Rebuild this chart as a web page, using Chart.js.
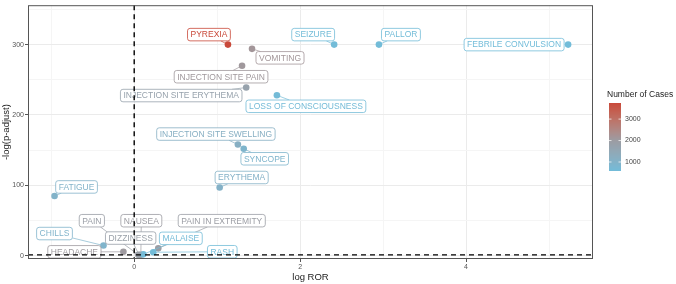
<!DOCTYPE html>
<html>
<head>
<meta charset="utf-8">
<script src="https://cdn.jsdelivr.net/npm/chart.js@4"></script>
<style>
  html, body { margin: 0; padding: 0; background: #fff; }
  #wrap { width: 676px; height: 284px; position: relative; }
</style>
</head>
<body>
<div id="wrap"><canvas id="c" width="676" height="284"></canvas></div>
<script>
/* ---------------- Data ---------------- */
const terms = [
  "PYREXIA", "VOMITING", "INJECTION SITE PAIN", "INJECTION SITE ERYTHEMA",
  "LOSS OF CONSCIOUSNESS", "SEIZURE", "PALLOR", "FEBRILE CONVULSION",
  "INJECTION SITE SWELLING", "SYNCOPE", "ERYTHEMA", "FATIGUE",
  "PAIN", "NAUSEA", "PAIN IN EXTREMITY", "CHILLS", "DIZZINESS", "MALAISE",
  "HEADACHE", "RASH"
];
const logROR = [
  1.13, 1.42, 1.30, 1.35,
  1.72, 2.41, 2.95, 5.23,
  1.25, 1.32, 1.03, -0.96,
  0.05, 0.08, 0.29, -0.37, 0.06, 0.11,
  -0.13, 0.23
];
const negLogP = [
  300, 294, 270, 239,
  228, 300, 300, 300,
  158, 152, 97, 85,
  1.5, 1.5, 10.5, 14.5, 1.0, 2.0,
  5.6, 5.0
];
const cases = [
  3750, 2150, 2100, 1750,
  620, 600, 600, 580,
  1150, 900, 1050, 1000,
  1900, 2000, 1950, 950, 1850, 620,
  2050, 600
];
const xTickLabels = [0, 2, 4];
const yTickLabels = [0, 100, 200, 300];
const legendTicks = [1000, 2000, 3000];

const pThreshold = 1.3;   // -log10(0.05)
const rorThreshold = 0;

/* label placement: pixel offset of label centre from its point */
const labelOffsets = [
  [-19, -10], [28, 9], [-21, 11], [-65, 8],
  [29, 11], [-21, -10], [22, -10], [-54, 0],
  [-22, -10.5], [21, 10], [22, -10], [22, -9],
  [-46.5, -34], [0.5, -34], [63.5, -27.7], [-49, -12], [-8.5, -17], [37.5, -16],
  [-49, 0], [69, -0.5]
];

/* ---------------- Colour scale ---------------- */
const colStops = [
  [0, "#72bcd9"],
  [0.45, "#9c9ca2"],
  [1, "#c9493a"]
];

function hexToRgb(h) {
  return [1, 3, 5].map(i => parseInt(h.substr(i, 2), 16));
}
function toLin(c) { c /= 255; return c <= 0.04045 ? c / 12.92 : Math.pow((c + 0.055) / 1.055, 2.4); }
function fromLin(c) { c = c <= 0.0031308 ? 12.92 * c : 1.055 * Math.pow(c, 1 / 2.4) - 0.055; return Math.round(Math.max(0, Math.min(1, c)) * 255); }
function rgbToLab(rgb) {
  const [r, g, b] = rgb.map(toLin);
  let x = (0.4124 * r + 0.3576 * g + 0.1805 * b) / 0.95047;
  let y = (0.2126 * r + 0.7152 * g + 0.0722 * b);
  let z = (0.0193 * r + 0.1192 * g + 0.9505 * b) / 1.08883;
  const f = t => t > 0.008856 ? Math.cbrt(t) : 7.787 * t + 16 / 116;
  x = f(x); y = f(y); z = f(z);
  return [116 * y - 16, 500 * (x - y), 200 * (y - z)];
}
function labToRgb(lab) {
  const fy = (lab[0] + 16) / 116, fx = fy + lab[1] / 500, fz = fy - lab[2] / 200;
  const fi = t => t * t * t > 0.008856 ? t * t * t : (t - 16 / 116) / 7.787;
  const x = fi(fx) * 0.95047, y = fi(fy), z = fi(fz) * 1.08883;
  const r = 3.2406 * x - 1.5372 * y - 0.4986 * z;
  const g = -0.9689 * x + 1.8758 * y + 0.0415 * z;
  const b = 0.0557 * x - 0.2040 * y + 1.0570 * z;
  return [fromLin(r), fromLin(g), fromLin(b)];
}
const labStops = colStops.map(s => [s[0], rgbToLab(hexToRgb(s[1]))]);
const caseMin = Math.min(...cases);
const caseMax = Math.max(...cases);

function caseColor(v) {
  const t = Math.max(0, Math.min(1, (v - caseMin) / (caseMax - caseMin)));
  let k = 0;
  while (k < labStops.length - 2 && t > labStops[k + 1][0]) k++;
  const [t0, l0] = labStops[k], [t1, l1] = labStops[k + 1];
  const u = (t - t0) / (t1 - t0);
  const [r, g, b] = labToRgb(l0.map((l, i) => l + (l1[i] - l) * u));
  return `rgb(${r},${g},${b})`;
}
const pointColors = cases.map(caseColor);

/* ---------------- Plugin: labels, threshold lines, frame, legend ---------------- */
const FONT = "'Liberation Sans', Arial, sans-serif";

function roundRect(ctx, x, y, w, h, r) {
  ctx.beginPath();
  ctx.moveTo(x + r, y);
  ctx.arcTo(x + w, y, x + w, y + h, r);
  ctx.arcTo(x + w, y + h, x, y + h, r);
  ctx.arcTo(x, y + h, x, y, r);
  ctx.arcTo(x, y, x + w, y, r);
  ctx.closePath();
}

const decor = {
  id: "decor",
  afterDatasetsDraw(chart) {
    const { ctx, chartArea: a, scales: { x, y } } = chart;
    ctx.save();
    ctx.font = `8.5px ${FONT}`;
    ctx.textAlign = "center";
    ctx.textBaseline = "middle";

    terms.forEach((t, i) => {
      const px = x.getPixelForValue(logROR[i]);
      const py = y.getPixelForValue(negLogP[i]);
      const cx = px + labelOffsets[i][0];
      const cy = py + labelOffsets[i][1];
      const w = ctx.measureText(t).width + 6;
      const h = 12.5;
      const col = pointColors[i];

      // segment from box edge to point
      const dx = px - cx, dy = py - cy;
      const sx = dx === 0 ? Infinity : (w / 2) / Math.abs(dx);
      const sy = dy === 0 ? Infinity : (h / 2) / Math.abs(dy);
      const s = Math.min(sx, sy);
      if (s < 1) {
        const ex = cx + dx * s, ey = cy + dy * s;
        if (Math.hypot(px - ex, py - ey) > 6) {
          ctx.strokeStyle = col;
          ctx.lineWidth = 0.7;
          ctx.beginPath();
          ctx.moveTo(ex, ey);
          ctx.lineTo(px, py);
          ctx.stroke();
        }
      }

      roundRect(ctx, cx - w / 2, cy - h / 2, w, h, 2.5);
      ctx.fillStyle = "#fff";
      ctx.fill();
      ctx.strokeStyle = col;
      ctx.lineWidth = 0.8;
      ctx.stroke();
      ctx.fillStyle = col;
      ctx.fillText(t, cx, cy + 0.5);
    });

    // threshold lines
    ctx.strokeStyle = "#000";
    ctx.lineWidth = 1.4;
    ctx.setLineDash([5, 4]);
    const hy = y.getPixelForValue(pThreshold);
    ctx.beginPath();
    ctx.moveTo(a.left, hy);
    ctx.lineTo(a.right, hy);
    ctx.stroke();
    const vx = x.getPixelForValue(rorThreshold);
    ctx.beginPath();
    ctx.moveTo(vx, a.top);
    ctx.lineTo(vx, a.bottom);
    ctx.stroke();
    ctx.setLineDash([]);

    // panel frame
    ctx.strokeStyle = "#555";
    ctx.lineWidth = 1;
    ctx.strokeRect(a.left + 0.5, a.top + 0.5, a.right - a.left - 1, a.bottom - a.top - 1);
    ctx.restore();
  },
  afterDraw(chart) {
    const { ctx } = chart;
    const bx = 609, bw = 12, top = 103, bottom = 171;
    ctx.save();
    ctx.fillStyle = "#222";
    ctx.font = `8.5px ${FONT}`;
    ctx.textAlign = "left";
    ctx.textBaseline = "alphabetic";
    ctx.fillText("Number of Cases", 607, 97);

    for (let yy = top; yy < bottom; yy++) {
      const v = caseMax - (yy - top + 0.5) / (bottom - top) * (caseMax - caseMin);
      ctx.fillStyle = caseColor(v);
      ctx.fillRect(bx, yy, bw, 1);
    }
    ctx.font = `7px ${FONT}`;
    ctx.textBaseline = "middle";
    legendTicks.forEach(v => {
      const ty = bottom - (v - caseMin) / (caseMax - caseMin) * (bottom - top);
      ctx.strokeStyle = "rgba(255,255,255,0.9)";
      ctx.lineWidth = 0.8;
      ctx.beginPath();
      ctx.moveTo(bx, ty); ctx.lineTo(bx + 2.5, ty);
      ctx.moveTo(bx + bw - 2.5, ty); ctx.lineTo(bx + bw, ty);
      ctx.stroke();
      ctx.fillStyle = "#444";
      ctx.fillText(String(v), bx + bw + 4, ty);
    });
    ctx.restore();
  }
};

/* ---------------- Chart ---------------- */
new Chart(document.getElementById("c"), {
  type: "scatter",
  data: {
    datasets: [{
      data: terms.map((t, i) => ({ x: logROR[i], y: negLogP[i] })),
      pointBackgroundColor: pointColors,
      pointBorderWidth: 0,
      pointRadius: 3.3
    }]
  },
  options: {
    responsive: false,
    animation: false,
    devicePixelRatio: 1,
    layout: { padding: { top: 2, right: 83, left: 0, bottom: 0 } },
    plugins: { legend: { display: false }, tooltip: { enabled: false } },
    scales: {
      x: {
        type: "linear",
        min: -1.28,
        max: 5.53,
        afterFit: s => { s.height = 25; },
        border: { display: false },
        grid: {
          color: c => (c.tick && c.tick.value % 2 === 0) ? "#ebebeb" : "#f5f5f5",
          tickColor: c => (c.tick && xTickLabels.includes(c.tick.value)) ? "#555" : "rgba(0,0,0,0)",
          tickLength: 3,
          lineWidth: 1
        },
        ticks: {
          stepSize: 1,
          includeBounds: false,
          autoSkip: false,
          maxRotation: 0,
          padding: 1,
          color: "#555",
          font: { size: 7, family: FONT },
          callback: v => xTickLabels.includes(v) ? String(v) : ""
        },
        title: {
          display: true,
          text: "log ROR",
          color: "#222",
          font: { size: 9.5, family: FONT },
          padding: { top: 0, bottom: 1 }
        }
      },
      y: {
        type: "linear",
        min: -4.6,
        max: 356,
        afterFit: s => { s.width = 28; },
        border: { display: false },
        grid: {
          color: c => (c.tick && c.tick.value % 100 === 0) ? "#ebebeb" : "#f5f5f5",
          tickColor: c => (c.tick && yTickLabels.includes(c.tick.value)) ? "#555" : "rgba(0,0,0,0)",
          tickLength: 3,
          lineWidth: 1
        },
        ticks: {
          stepSize: 50,
          includeBounds: false,
          autoSkip: false,
          padding: 1,
          color: "#555",
          font: { size: 7, family: FONT },
          callback: v => yTickLabels.includes(v) ? String(v) : ""
        },
        title: {
          display: true,
          text: "-log(p-adjust)",
          color: "#222",
          font: { size: 9.5, family: FONT },
          padding: { top: 1, bottom: 0 }
        }
      }
    }
  },
  plugins: [decor]
});
</script>
</body>
</html>
